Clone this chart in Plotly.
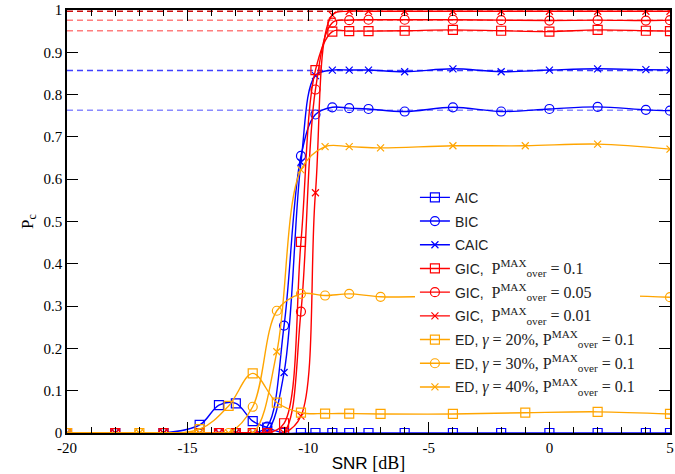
import plotly.graph_objects as go

# ---------------- data ----------------
snr_main = [-20, -18, -16, -14.5, -13.7, -13, -12.3, -11.7, -11, -10.3, -9.7, -9,
            -8.3, -7.5, -6, -4, -2, 0, 2, 4, 5]
aic = [0, 0, 0, 0.019, 0.066, 0.070, 0.028, 0.013, 0, 0, 0, 0,
       0, 0, 0, 0, 0, 0, 0, 0, 0]
bic = [0, 0, 0, 0, 0, 0, 0, 0.015, 0.254, 0.655, 0.753, 0.770,
       0.768, 0.766, 0.760, 0.770, 0.760, 0.766, 0.771, 0.764, 0.762]
caic = [0, 0, 0, 0, 0, 0, 0, 0.005, 0.143, 0.64, 0.845, 0.858,
        0.858, 0.858, 0.854, 0.861, 0.854, 0.858, 0.861, 0.859, 0.858]
gic_01 = [0, 0, 0, 0, 0, 0, 0, 0, 0.023, 0.452, 0.858, 0.949,
          0.950, 0.950, 0.951, 0.953, 0.951, 0.949, 0.953, 0.951, 0.950]
gic_005 = [0, 0, 0, 0, 0, 0, 0, 0, 0.003, 0.287, 0.812, 0.970,
           0.976, 0.977, 0.977, 0.977, 0.976, 0.975, 0.976, 0.975, 0.976]
gic_001 = [0, 0, 0, 0, 0, 0, 0, 0, 0, 0.040, 0.568, 0.988,
           0.997, 0.997, 0.997, 0.997, 0.997, 0.997, 0.997, 0.997, 0.997]

snr_ed = [-20, -17, -14.5, -13.3, -12.3, -11.3, -10.3, -9.3, -8.3, -7, -4, -1, 2, 5]
ed_20 = [0, 0, 0.009, 0.064, 0.141, 0.072, 0.048, 0.046, 0.046, 0.045, 0.045, 0.048, 0.050, 0.045]
ed_30 = [0, 0, 0, 0, 0.062, 0.289, 0.329, 0.325, 0.329, 0.322, 0.324, 0.323, 0.326, 0.321]
ed_40 = [0, 0, 0, 0, 0, 0.192, 0.622, 0.677, 0.677, 0.674, 0.679, 0.679, 0.683, 0.671]

# asymptotic (reference) levels, dashed
ref_levels = [0.997, 0.976, 0.951, 0.857, 0.763]
ref_colors = ["rgba(200,0,0,0.95)", "rgba(255,40,40,0.6)", "rgba(255,40,40,0.6)",
              "rgba(30,30,255,0.85)", "rgba(60,60,255,0.6)"]

x_range = [-20, 5]
y_ticks = [0, 0.1, 0.2, 0.3, 0.4, 0.5, 0.6, 0.7, 0.8, 0.9, 1]
x_ticks = [-20, -15, -10, -5, 0, 5]

SERIF = "Liberation Serif"
SANS = "Liberation Sans"
BLUE, RED, ORANGE = "#0000ff", "#ff0000", "#ffa500"


def m(s, size=16):
    return f"<span style='font-family:{SERIF};font-size:{size}px'>{s}</span>"


pover = "P<sup>MAX</sup><sub>over</sub>"

series = [
    ("AIC", snr_main, aic, BLUE, "square-open"),
    ("BIC", snr_main, bic, BLUE, "circle-open"),
    ("CAIC", snr_main, caic, BLUE, "x-thin-open"),
    ("GIC,  " + m(pover + " = 0.1"), snr_main, gic_01, RED, "square-open"),
    ("GIC,  " + m(pover + " = 0.05"), snr_main, gic_005, RED, "circle-open"),
    ("GIC,  " + m(pover + " = 0.01"), snr_main, gic_001, RED, "x-thin-open"),
    ("ED, " + m("<i>γ</i> = 20%, " + pover + " = 0.1"), snr_ed, ed_20, ORANGE, "square-open"),
    ("ED, " + m("<i>γ</i> = 30%, " + pover + " = 0.1"), snr_ed, ed_30, ORANGE, "circle-open"),
    ("ED, " + m("<i>γ</i> = 40%, " + pover + " = 0.1"), snr_ed, ed_40, ORANGE, "x-thin-open"),
]

fig = go.Figure()

for lvl, col in zip(ref_levels, ref_colors):
    fig.add_trace(go.Scatter(
        x=x_range, y=[lvl, lvl], mode="lines", showlegend=False, hoverinfo="skip",
        line=dict(color=col, width=1.5, dash="6px,4px")))

for i, (name, xs, ys, col, sym) in enumerate(series):
    size = 7 if sym == "x-thin-open" else 9
    fig.add_trace(go.Scatter(
        x=xs, y=ys, name=name, mode="lines+markers", legendgroup=f"g{i}",
        line=dict(color=col, width=1.4, shape="spline", smoothing=1),
        marker=dict(symbol=sym, size=size, color=col, line=dict(color=col, width=1.2)),
        cliponaxis=True))

fig.update_layout(
    width=675, height=474,
    margin=dict(l=67, r=5, t=10, b=41, autoexpand=False),
    paper_bgcolor="white", plot_bgcolor="white",
    font=dict(family=SERIF, size=15, color="black"),
    legend=dict(x=0.577, y=0.594, xanchor="left", yanchor="top",
                bgcolor="white", borderwidth=0,
                font=dict(family=SANS, size=14, color="#222"),
                tracegroupgap=2.5, itemwidth=30),
    showlegend=True,
)

fig.update_xaxes(
    range=x_range, tickvals=x_ticks, ticktext=[str(v) for v in x_ticks],
    ticks="inside", ticklen=11, tickwidth=1, tickcolor="black",
    minor=dict(dtick=1, ticks="inside", ticklen=6, tickwidth=1, tickcolor="black"),
    showline=True, linecolor="black", linewidth=1.5, mirror="allticks",
    showgrid=False, zeroline=False, automargin=False,
    tickfont=dict(family=SERIF, size=15),
    title=dict(text="SNR " + m("[dB]", 18), font=dict(family=SANS, size=17), standoff=2),
)
fig.update_yaxes(
    range=[0, 1], tickvals=y_ticks, ticktext=[f"{v:g}" for v in y_ticks],
    ticks="inside", ticklen=11, tickwidth=1, tickcolor="black",
    showline=True, linecolor="black", linewidth=1.5, mirror="allticks",
    showgrid=False, zeroline=False, automargin=False,
    tickfont=dict(family=SERIF, size=15),
    title=dict(text="P<sub>c</sub>", font=dict(family=SERIF, size=17), standoff=6),
)

fig.write_html(
    "out.html",
    config={"displayModeBar": False},
    post_script="document.body.style.margin='0';document.body.style.overflow='hidden';",
)
